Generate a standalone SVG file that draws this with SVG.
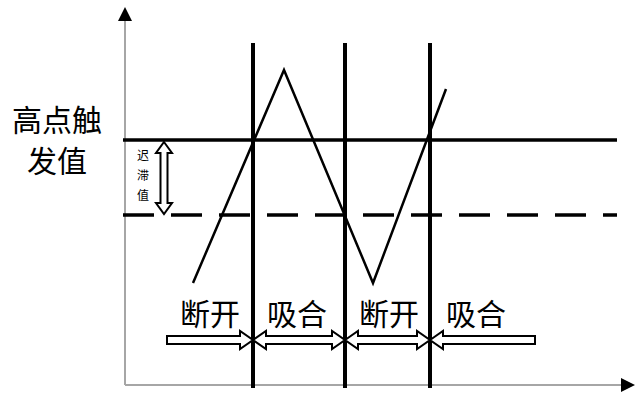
<svg xmlns="http://www.w3.org/2000/svg" width="635" height="394" viewBox="0 0 635 394">
<style>
.axis{stroke:#a6a6a6;stroke-width:2;fill:none}
.vline{stroke:#000;stroke-width:4;fill:none}
.hline{stroke:#000;stroke-width:3.5;fill:none}
.wave{stroke:#000;stroke-width:2.5;fill:none;stroke-linejoin:miter}
.hollow{fill:#fff;stroke:#000;stroke-width:2;stroke-linejoin:miter}
.lbl{font-family:"Noto Sans CJK SC","Noto Sans",sans-serif;fill:#000}
</style>
<rect width="635" height="394" fill="#fff"/>
<g id="axes">
<line class="axis" x1="125" y1="20" x2="125" y2="385"/>
<line class="axis" x1="125" y1="385" x2="623" y2="385"/>
<polygon points="125,7 132,21 118,21" fill="#000"/>
<polygon points="635,385 621,378 621,392" fill="#000"/>
</g>
<g id="thresholds">
<line class="hline" x1="123" y1="140" x2="617" y2="140"/>
<line class="hline" x1="123" y1="215" x2="617" y2="215" stroke-dasharray="31 17"/>
</g>
<g id="switch-lines">
<line class="vline" x1="253" y1="43" x2="253" y2="388"/>
<line class="vline" x1="345" y1="43" x2="345" y2="388"/>
<line class="vline" x1="430" y1="43" x2="430" y2="388"/>
</g>
<g id="signal">
<polyline class="wave" points="193,283 284,70 373,283 446,89"/>
</g>
<g id="hysteresis">
<path class="hollow" d="M164,142 L172,153 L167.5,153 L167.5,203 L172,203 L164,214 L156,203 L160.5,203 L160.5,153 L156,153 Z"/>
<text class="lbl" x="143" y="160" font-size="12" text-anchor="middle">迟</text>
<text class="lbl" x="143" y="180" font-size="12" text-anchor="middle">滞</text>
<text class="lbl" x="143" y="200" font-size="12" text-anchor="middle">值</text>
</g>
<g id="ylabel">
<text class="lbl" x="57" y="131" font-size="30" text-anchor="middle">高点触</text>
<text class="lbl" x="57" y="172" font-size="30" text-anchor="middle">发值</text>
</g>
<g id="state-arrows">
<path class="hollow" d="M167,336 L240,336 L240,331 L253,340 L240,349 L240,344 L167,344 Z"/>
<path class="hollow" d="M253,340 L266,331 L266,336 L332,336 L332,331 L345,340 L332,349 L332,344 L266,344 L266,349 Z"/>
<path class="hollow" d="M345,340 L358,331 L358,336 L417,336 L417,331 L430,340 L417,349 L417,344 L358,344 L358,349 Z"/>
<path class="hollow" d="M430,340 L443,331 L443,336 L535,336 L535,344 L443,344 L443,349 Z"/>
</g>
<g id="state-labels">
<text class="lbl" x="210" y="325" font-size="30" text-anchor="middle">断开</text>
<text class="lbl" x="297" y="325" font-size="30" text-anchor="middle">吸合</text>
<text class="lbl" x="389" y="325" font-size="30" text-anchor="middle">断开</text>
<text class="lbl" x="476" y="325" font-size="30" text-anchor="middle">吸合</text>
</g>
</svg>
